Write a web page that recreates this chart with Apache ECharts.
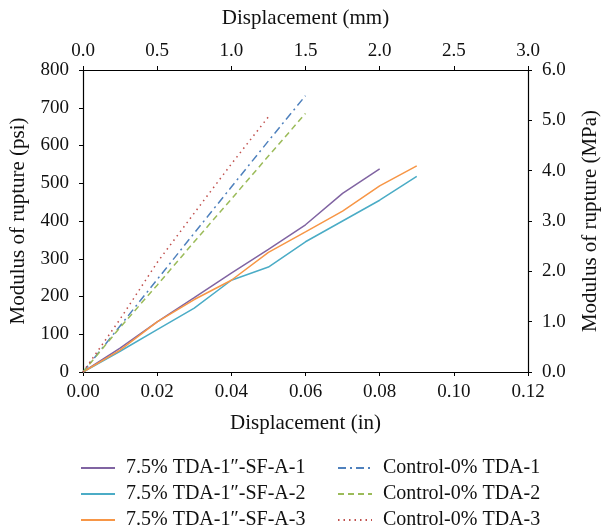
<!DOCTYPE html>
<html>
<head>
<meta charset="utf-8">
<script src="https://cdn.jsdelivr.net/npm/echarts@6/dist/echarts.min.js"></script>
<style>html,body{margin:0;padding:0;background:#fff}#c{width:602px;height:532px}</style>
</head>
<body>
<div id="c"></div>
<script>
// Displacement (in) at each reading
const dispIn = [0, 0.01, 0.02, 0.03, 0.04, 0.05, 0.06, 0.07, 0.08, 0.09];
// Modulus of rupture (psi)
const sfA1 = [0, 63, 133, 197, 262, 325, 390, 473, 538];
const sfA2 = [0, 55, 112, 169, 243, 278, 345, 400, 455, 518];
const sfA3 = [0, 58, 133, 192, 243, 317, 371, 426, 493, 546];
const ctrl1 = [0, 122, 245, 368, 490, 612, 732];
const ctrl2 = [0, 118, 230, 345, 458, 572, 685];
const ctrl3 = [0, 140, 290, 421, 551, 676];

const names = ['7.5% TDA-1\u2033-SF-A-1', '7.5% TDA-1\u2033-SF-A-2', '7.5% TDA-1\u2033-SF-A-3',
  'Control-0% TDA-1', 'Control-0% TDA-2', 'Control-0% TDA-3'];
const colors = ['#8064A2', '#4BACC6', '#F79646', '#4F81BD', '#9BBB59', '#C0504D'];
const dashes = ['solid', 'solid', 'solid', [8, 4, 2, 4], [6, 4], [1.5, 4]];
const values = [sfA1, sfA2, sfA3, ctrl1, ctrl2, ctrl3];

const FONT = 'Liberation Serif';
const lbl = {color: '#111', fontFamily: FONT, fontSize: 19};
const nm = {color: '#111', fontFamily: FONT, fontSize: 21};

function pairs(v) { return v.map((y, i) => [dispIn[i], y]); }

const axisCommon = {
  axisLine: {show: true, onZero: false, lineStyle: {color: '#000', width: 1.2}},
  axisTick: {show: true, length: 4, lineStyle: {color: '#000'}},
  splitLine: {show: false},
  nameLocation: 'middle',
  nameTextStyle: nm
};

const legendCols = [80, 80, 80, 337, 337, 337];
const legendRows = [458, 484, 510, 458, 484, 510];
const legends = names.map((n, i) => ({
  data: [n], orient: 'horizontal', left: legendCols[i], top: legendRows[i], padding: 0,
  itemWidth: 34, itemHeight: 20, itemStyle: {opacity: 0},
  textStyle: {color: '#111', fontFamily: FONT, fontSize: 20, lineHeight: 20, padding: [0, 0, 0, 6]}
}));

const chart = echarts.init(document.getElementById('c'));
chart.setOption({
  backgroundColor: '#fff',
  animation: false,
  grid: {left: 83, right: 74, top: 70, bottom: 160, containLabel: false, outerBoundsMode: 'none'},
  xAxis: [
    Object.assign({}, axisCommon, {
      type: 'value', position: 'bottom', min: 0, max: 0.12, interval: 0.02,
      name: 'Displacement (in)', nameGap: 41,
      axisLabel: Object.assign({}, lbl, {margin: 11, formatter: v => v.toFixed(2)})
    }),
    Object.assign({}, axisCommon, {
      type: 'value', position: 'top', min: 0, max: 3, interval: 0.5,
      name: 'Displacement (mm)', nameGap: 41,
      axisLabel: Object.assign({}, lbl, {margin: 9, formatter: v => v.toFixed(1)})
    })
  ],
  yAxis: [
    Object.assign({}, axisCommon, {
      type: 'value', position: 'left', min: 0, max: 800, interval: 100,
      name: 'Modulus of rupture (psi)', nameGap: 54,
      axisLabel: Object.assign({}, lbl, {margin: 14})
    }),
    Object.assign({}, axisCommon, {
      type: 'value', position: 'right', min: 0, max: 6, interval: 1,
      name: 'Modulus of rupture (MPa)', nameGap: 52,
      axisLabel: Object.assign({}, lbl, {margin: 14, formatter: v => v.toFixed(1)})
    })
  ],
  legend: legends,
  series: values.map((v, i) => ({
    name: names[i], type: 'line', xAxisIndex: 0, yAxisIndex: 0,
    data: pairs(v), symbol: 'none', smooth: false,
    lineStyle: {color: colors[i], width: 1.5, type: dashes[i]},
    itemStyle: {color: colors[i]}
  }))
});
</script>
</body>
</html>
